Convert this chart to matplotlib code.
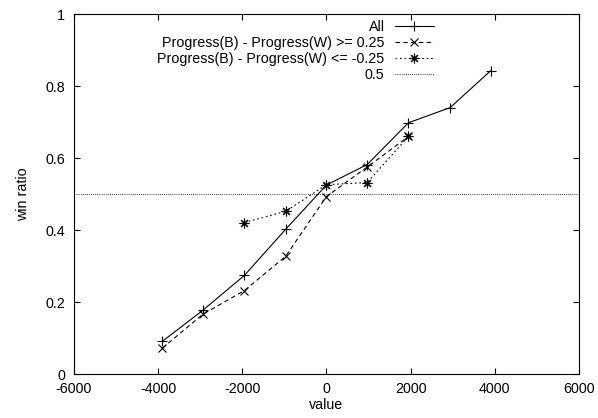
import matplotlib

matplotlib.use("Agg")
import matplotlib.pyplot as plt
from matplotlib.ticker import FuncFormatter, MultipleLocator

plt.rcParams["font.family"] = ["Liberation Sans", "DejaVu Sans"]
plt.rcParams["axes.unicode_minus"] = False

# Win ratio per evaluation-value bin.
all_x = [-3900, -2940, -1950, -970, 0, 970, 1950, 2940, 3900]
all_ratio = [0.091, 0.177, 0.274, 0.402, 0.525, 0.582, 0.698, 0.740, 0.842]

ahead_x = [-3900, -2940, -1950, -970, 0, 970, 1950]
ahead_ratio = [0.072, 0.166, 0.232, 0.327, 0.493, 0.575, 0.660]

behind_x = [-1950, -970, 0, 970, 1950]
behind_ratio = [0.421, 0.452, 0.526, 0.532, 0.660]

reference_level = 0.5

labels = [
    "All",
    "Progress(B) - Progress(W) >= 0.25",
    "Progress(B) - Progress(W) <= -0.25",
    "0.5",
]

fs = 10.3

fig = plt.figure(figsize=(5.98, 4.18), dpi=100)
ax = fig.add_axes([0.1237, 0.105, 0.968 - 0.1237, 0.9665 - 0.105])

lw = 0.8
ax.plot(all_x, all_ratio, color="black", lw=lw, ls="-", marker="+",
        ms=7, mew=lw, label=labels[0])
ax.plot(ahead_x, ahead_ratio, color="black", lw=lw, ls=(0, (4, 3)),
        marker="x", ms=6, mew=lw, label=labels[1])
ax.plot(behind_x, behind_ratio, color="black", lw=lw, ls=(0, (1.5, 2.5)),
        marker=(8, 2, 0), ms=7, mew=lw, label=labels[2])
ax.axhline(reference_level, color="black", lw=0.6, ls=(0, (1, 1.5)),
           label=labels[3])

ax.set_xlim(-6000, 6000)
ax.set_ylim(0, 1)
ax.xaxis.set_major_locator(MultipleLocator(2000))
ax.yaxis.set_major_locator(MultipleLocator(0.2))
ax.yaxis.set_major_formatter(FuncFormatter(lambda v, _: f"{v:g}"))
ax.tick_params(direction="in", length=4.5, width=0.8, top=True, right=True,
               labelsize=fs)
ax.tick_params(axis="y", pad=6.5)
ax.tick_params(axis="x", pad=6)
for spine in ax.spines.values():
    spine.set_linewidth(0.8)

ax.set_xlabel("value", fontsize=fs, labelpad=1)
ax.set_ylabel("win ratio", fontsize=fs, labelpad=11)

ax.legend(loc="upper right", bbox_to_anchor=(0.713, 0.982), frameon=False,
          markerfirst=False, fontsize=fs, handlelength=2.75,
          handletextpad=0.7, labelspacing=0.12, borderpad=0, borderaxespad=0)

fig.savefig("out.png", dpi=100)
